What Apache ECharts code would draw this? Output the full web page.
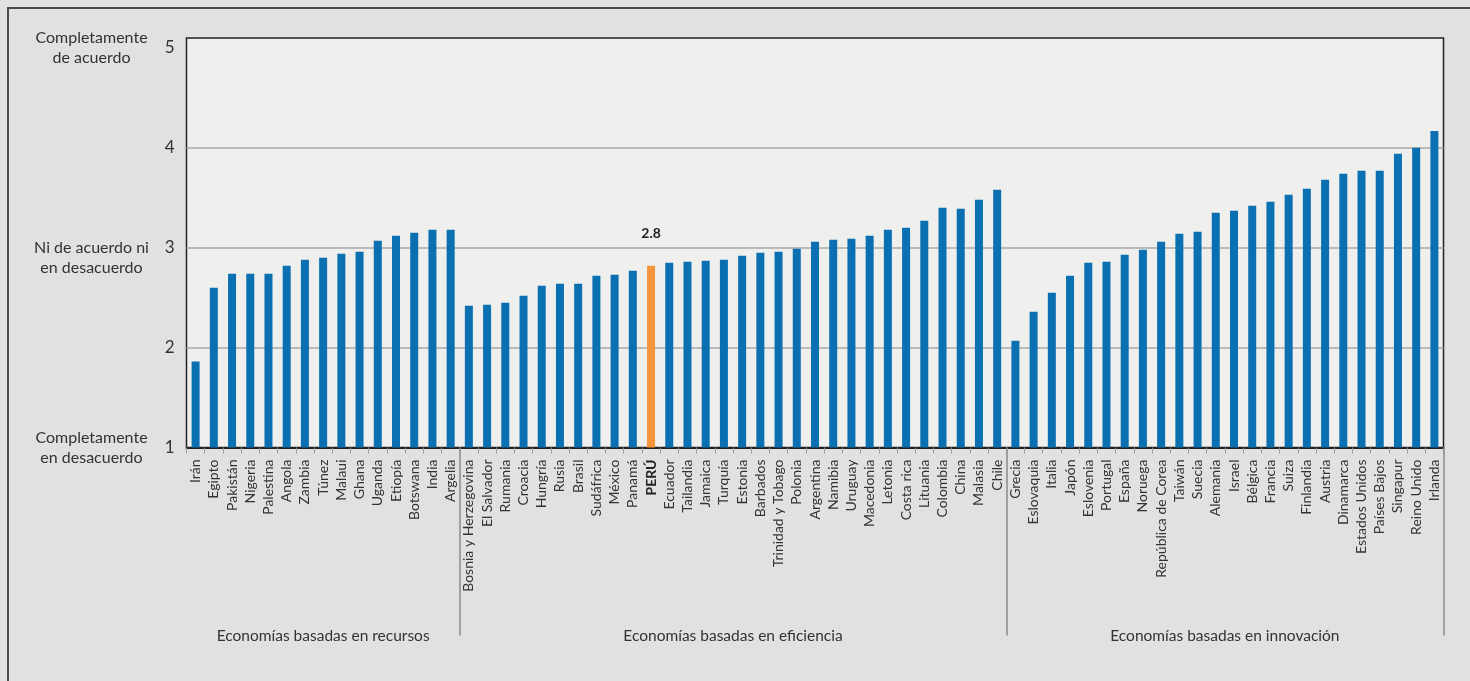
<!DOCTYPE html>
<html>
<head>
<meta charset="utf-8">
<script src="https://cdn.jsdelivr.net/npm/echarts@6/dist/echarts.min.js"></script>
<style>
html,body{margin:0;padding:0;background:#e1e1df;}
#frame{position:absolute;left:7px;top:7px;width:1500px;height:700px;border-left:2px solid #4a4a4a;border-top:2px solid #4a4a4a;box-sizing:border-box;}
#chart{position:absolute;left:0;top:0;width:1470px;height:681px;}
</style>
</head>
<body>
<div id="frame"></div>
<div id="chart"></div>
<script>
const categories = [
  'Irán','Egipto','Pakistán','Nigeria','Palestina','Angola','Zambia','Túnez','Malaui','Ghana','Uganda','Etiopía','Botswana','India','Argelia',
  'Bosnia y Herzegovina','El Salvador','Rumania','Croacia','Hungría','Rusia','Brasil','Sudáfrica','México','Panamá','PERÚ','Ecuador','Tailandia','Jamaica','Turquía','Estonia','Barbados','Trinidad y Tobago','Polonia','Argentina','Namibia','Uruguay','Macedonia','Letonia','Costa rica','Lituania','Colombia','China','Malasia','Chile',
  'Grecia','Eslovaquia','Italia','Japón','Eslovenia','Portugal','España','Noruega','República de Corea','Taiwán','Suecia','Alemania','Israel','Bélgica','Francia','Suiza','Finlandia','Austria','Dinamarca','Estados Unidos','Países Bajos','Singapur','Reino Unido','Irlanda'
];
const values = [
  1.86,2.60,2.74,2.74,2.74,2.82,2.88,2.90,2.94,2.96,3.07,3.12,3.15,3.18,3.18,
  2.42,2.43,2.45,2.52,2.62,2.64,2.64,2.72,2.73,2.77,2.82,2.85,2.86,2.87,2.88,2.92,2.95,2.96,2.99,3.06,3.08,3.09,3.12,3.18,3.20,3.27,3.40,3.39,3.48,3.58,
  2.07,2.36,2.55,2.72,2.85,2.86,2.93,2.98,3.06,3.14,3.16,3.35,3.37,3.42,3.46,3.53,3.59,3.68,3.74,3.77,3.77,3.94,4.00,4.17
];
const groupNames = ['Economías basadas en recursos','Economías basadas en eficiencia','Economías basadas en innovación'];
const groupSizes = [15, 30, 24];
const highlight = 'PERÚ';
const yTickLabels = {1:'Completamente\nen desacuerdo', 3:'\nNi de acuerdo ni\nen desacuerdo', 5:'Completamente\nde acuerdo'};

const blue = '#0a70b2', orange = '#f7953b';
const FONT = 'Lato';

// group boundaries & centers in category units
const bounds = []; const centers = [];
let acc = 0;
groupSizes.forEach(s => { centers.push(acc + s / 2); acc += s; bounds.push(acc); });

const barData = categories.map((c, i) => c === highlight ? {
  value: values[i],
  itemStyle: {color: orange},
  label: {show: true, position: 'top', distance: 25, formatter: p => p.value.toFixed(1),
          fontFamily: FONT, fontWeight: 'bold', fontSize: 14, color: '#222'}
} : values[i]);

const chart = echarts.init(document.getElementById('chart'), null, {renderer: 'canvas'});
chart.setOption({
  animation: false,
  textStyle: {fontFamily: FONT},
  grid: {left: 186.5, right: 26.5, top: 38, bottom: 233.5, show: true,
         backgroundColor: '#efefed', borderColor: '#222', borderWidth: 1.5},
  xAxis: [{
    type: 'category', data: categories, position: 'bottom',
    axisLine: {lineStyle: {color: '#222', width: 2}},
    axisTick: {show: true, length: 6, lineStyle: {color: '#999'}},
    axisLabel: {rotate: 90, interval: 0, margin: 12, fontSize: 14, color: '#333', fontFamily: FONT,
      formatter: v => v === highlight ? '{b|' + v + '}' : v,
      rich: {b: {fontWeight: 'bold', fontSize: 14, color: '#222', fontFamily: FONT}}}
  }, {
    type: 'value', min: 0, max: categories.length, position: 'bottom',
    axisLine: {show: false}, splitLine: {show: false},
    axisTick: {show: true, length: 188, customValues: bounds, lineStyle: {color: '#8a8a8a', width: 1.5}},
    axisLabel: {show: true, margin: 180, fontSize: 15.5, color: '#333', fontFamily: FONT,
      customValues: centers,
      formatter: v => { const i = centers.findIndex(c => Math.abs(c - v) < 1e-6); return i >= 0 ? groupNames[i] : ''; }}
  }],
  yAxis: [{
    type: 'value', min: 1, max: 5.1, interval: 1, position: 'left',
    axisLine: {show: false}, axisTick: {show: false},
    splitLine: {show: true, showMinLine: false, showMaxLine: false,
      lineStyle: {color: ['#a9a9a9', '#a9a9a9', '#a9a9a9', 'rgba(0,0,0,0)'], width: 1.5}},
    axisLabel: {margin: 12, fontSize: 17, color: '#333', fontFamily: FONT,
      formatter: v => (v > 5.01 ? '' : String(v))}
  }, {
    type: 'value', min: 1, max: 5.1, interval: 1, position: 'left',
    axisLine: {show: false}, axisTick: {show: false}, splitLine: {show: false},
    axisLabel: {margin: 95, align: 'center', fontSize: 16, lineHeight: 20, color: '#333', fontFamily: FONT,
      formatter: v => yTickLabels[Math.round(v * 100) / 100] || ''}
  }],
  series: [{
    type: 'bar', data: barData, barWidth: 8, xAxisIndex: 0, yAxisIndex: 0,
    itemStyle: {color: blue}
  }]
});
</script>
</body>
</html>
